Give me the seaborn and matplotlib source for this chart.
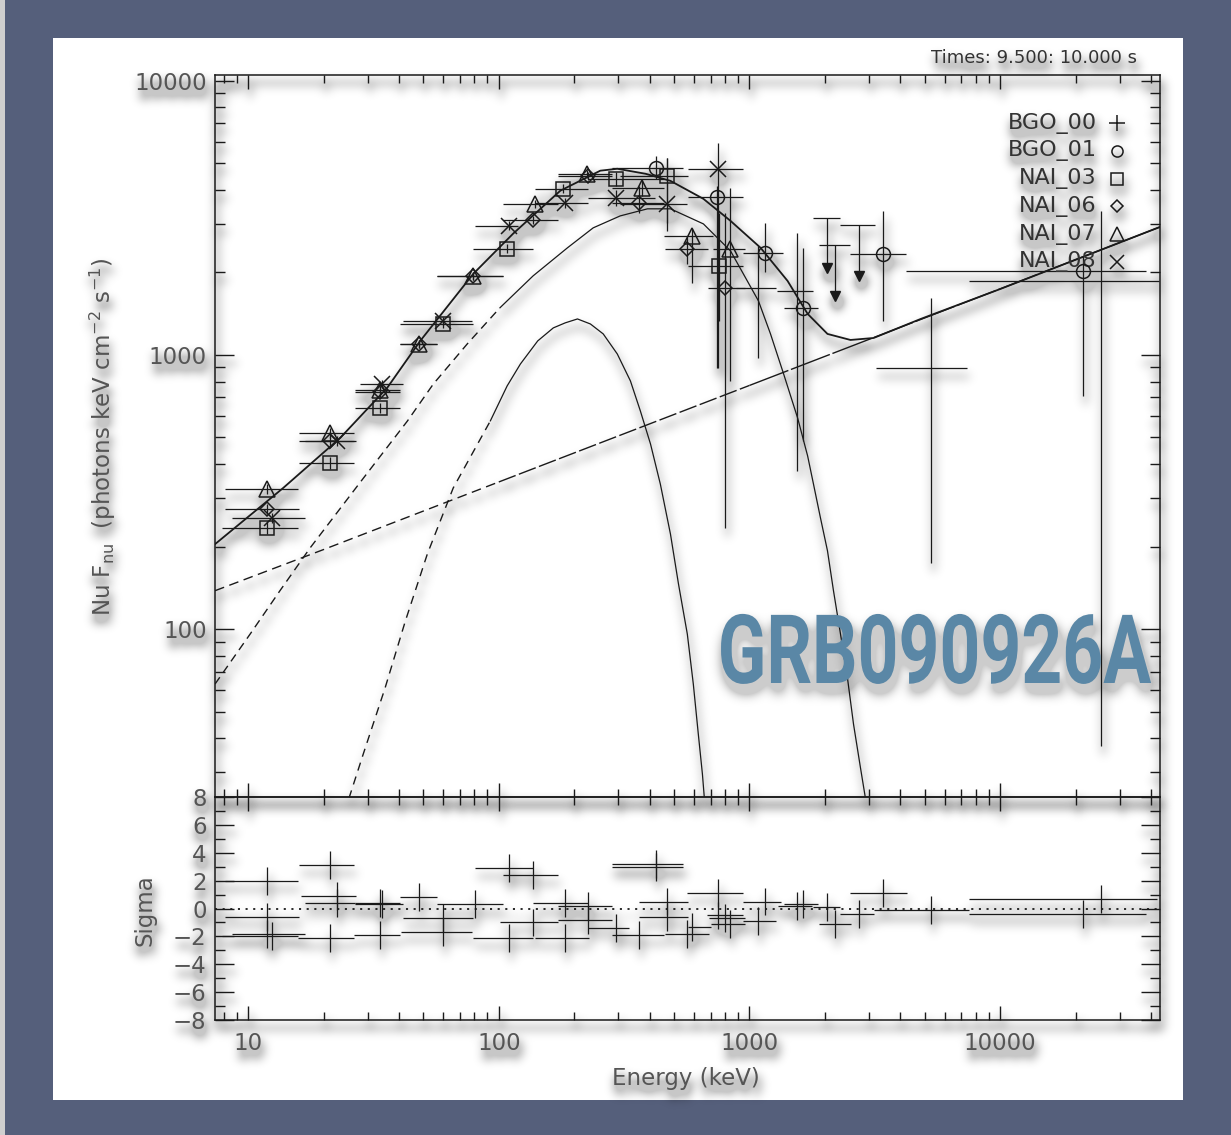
import numpy as np
import seaborn as sns
import matplotlib.pyplot as plt
from matplotlib.patches import Rectangle
from matplotlib.patheffects import AbstractPathEffect
from matplotlib.transforms import Affine2D
from matplotlib.ticker import (FixedLocator, FuncFormatter, LogLocator,
                               MultipleLocator, NullFormatter)

# ---------------- data ----------------
# energies in keV, Nu F_nu in photons keV cm^-2 s^-1

# total model (solid)
tot_E = [7.38, 13.8, 23.3, 35.9, 48.6, 79.1, 114, 176, 254, 297, 385, 484, 655,
         840, 1107, 1419, 1706, 2047, 2529, 3126, 4820, 10040, 43400]
tot_F = [204, 327, 498, 759, 1125, 1976, 2768, 3973, 4700, 4777, 4580, 4315, 3710,
         3084, 2460, 1862, 1412, 1193, 1134, 1153, 1353, 1742, 2930]

# Band component
band_E = [7.38, 10.2, 13.4, 17.7, 28.0, 43.2, 54.8, 74.8, 101, 137, 188, 238, 305,
          392, 484, 655, 840, 1086, 1213, 1368, 1556, 1706, 1800, 1920, 2047, 2163,
          2307, 2460, 2600, 2773, 2904, 2985]
band_F = [63, 96.0, 138, 198, 343, 574, 783, 1096, 1485, 1942, 2460, 2908, 3215,
          3412, 3412, 3006, 2397, 1574, 1193, 853, 589, 428, 338, 254, 193, 138,
          95.9, 66.2, 45.0, 31.1, 24.0, 20.8]

# black body component
bb_E = [23.3, 25.5, 28.8, 35.2, 42.4, 51.9, 65.8, 92.5, 108, 122, 143, 165, 184,
        206, 232, 261, 297, 335, 367, 403, 441, 484, 521, 565, 597, 625, 649, 667]
bb_F = [19.1, 24.8, 35.0, 61.0, 107, 188, 327, 574, 771, 927, 1125, 1255, 1309,
        1353, 1297, 1193, 1008, 804, 625, 473, 338, 222, 146, 95.9, 63.0, 41.4,
        29.6, 21.7]

# power law component
pl_E = [7.38, 20, 100, 1000, 10000, 43400]
pl_F = [138, 195, 344, 774, 1742, 2930]

# detectors: centre, bin edges, flux, flux error range
n03_E = [11.9, 21.2, 33.7, 60.0, 108, 181, 294, 467, 759]
n03_Elo = [7.9, 16.0, 26.7, 40.4, 79.1, 140, 227, 305, 571]
n03_Ehi = [15.8, 26.5, 40.4, 79.1, 137, 227, 454, 571, 938]
n03_F = [234, 404, 641, 1297, 2438, 4040, 4390, 4500, 2115]
n03_Flo = [222, 385, 615, 1250, 2350, 3900, 4150, 3040, 1330]
n03_Fhi = [247, 425, 668, 1345, 2530, 4190, 4640, 5240, 3300]

n06_E = [11.9, 21.2, 33.7, 48.2, 79.1, 137, 227, 361, 565, 802]
n06_Elo = [8.1, 16.0, 26.7, 40.4, 56.8, 104, 173, 284, 460, 686]
n06_Ehi = [16.0, 26.5, 40.4, 56.8, 104, 173, 284, 454, 686, 964]
n06_F = [274, 485, 730, 1096, 1943, 3110, 4500, 3590, 2438, 1758]
n06_Flo = [262, 465, 705, 1060, 1880, 3000, 4350, 3300, 2150, 234]
n06_Fhi = [287, 505, 756, 1132, 2006, 3220, 4650, 4140, 2700, 3300]

n07_E = [11.9, 21.2, 33.7, 48.2, 79.1, 140, 225, 371, 592, 840]
n07_Elo = [8.1, 16.0, 26.7, 40.4, 56.8, 104, 173, 284, 454, 718]
n07_Ehi = [15.8, 26.5, 40.4, 56.8, 104, 173, 284, 454, 718, 964]
n07_F = [324, 519, 745, 1096, 1943, 3560, 4580, 4070, 2720, 2438]
n07_Flo = [310, 498, 718, 1060, 1880, 3440, 4430, 3800, 1833, 804]
n07_Fhi = [338, 540, 772, 1132, 2006, 3680, 4730, 4340, 2884, 4070]

n08_E = [12.5, 22.6, 34.3, 60.0, 110, 184, 294, 467, 752]
n08_Elo = [8.6, 16.9, 28.0, 41.6, 80.5, 140, 227, 305, 571]
n08_Ehi = [16.9, 26.9, 41.6, 78.0, 119, 227, 420, 565, 938]
n08_F = [254, 485, 784, 1331, 2960, 3590, 3740, 3560, 4770]
n08_Flo = [243, 466, 757, 1290, 2850, 3450, 3500, 2838, 897]
n08_Fhi = [266, 505, 812, 1373, 3070, 3730, 3990, 5240, 5940]

b01_E = [422, 745, 1148, 1629, 3396, 21300]
b01_Elo = [284, 571, 938, 1368, 2529, 4198]
b01_Ehi = [545, 938, 1355, 1884, 4198, 38100]
b01_F = [4810, 3780, 2355, 1485, 2337, 2027]
b01_Flo = [4400, 897, 2000, 485, 1331, 708]
b01_Fhi = [5300, 4140, 3035, 2460, 3355, 2298]

b00_E = [1086, 1541, 5284, 25200]
b00_Elo = [880, 1290, 3184, 7480]
b00_Ehi = [1270, 1784, 7350, 42900]
b00_F = [1758, 1714, 897, 1862]
b00_Flo = [975, 377, 174, 37.4]
b00_Fhi = [2500, 2787, 1615, 3355]

# upper limits
ul_E = [2047, 2203, 2723]
ul_Elo = [1800, 1890, 2307]
ul_Ehi = [2307, 2529, 3155]
ul_F = [3162, 2518, 2979]
ul_tip = [2078, 1642, 1942]

# residuals (sigma)
res_E = [11.9, 11.9, 11.9, 12.5, 21.2, 22.6, 22.6, 21.2, 33.7, 34.3, 33.7, 48.2,
         60.0, 60.0, 80.5, 110, 137, 110, 137, 184, 184, 227, 227, 294, 361, 422,
         422, 467, 467, 565, 592, 752, 752, 802, 840, 1086, 1148, 1541, 1629, 2047,
         2203, 2723, 3396, 5284, 21300, 25200]
res_Elo = [8.1, 8.1, 8.6, 7.9, 16.0, 16.3, 16.9, 15.8, 26.7, 26.7, 26.5, 40.4,
           41.6, 40.8, 56.8, 80.5, 104, 79.1, 101, 137, 140, 173, 173, 227, 284, 284,
           284, 361, 361, 460, 571, 565, 680, 690, 700, 938, 938, 1300, 1368, 1800,
           1900, 2300, 2529, 3150, 7480, 7480]
res_Ehi = [15.8, 16.0, 16.9, 15.8, 26.5, 26.9, 26.7, 26.5, 40.4, 41.6, 40.4, 56.8,
           79.1, 78.0, 104, 137, 173, 137, 173, 227, 230, 284, 284, 330, 454, 545,
           545, 571, 571, 690, 700, 938, 938, 960, 960, 1270, 1340, 1780, 1884, 2300,
           2530, 3150, 4240, 7480, 38300, 42200]
res_sig = [2.0, -0.6, -1.8, -2.0, 3.1, 0.9, 0.4, -2.1, 0.4, 0.3, -1.9, 0.8,
           -0.7, -1.7, 0.3, 2.9, 2.4, -2.1, -1.0, 0.4, -2.1, 0.2, -0.8, -1.4, -1.9, 3.0,
           3.2, 0.5, -0.6, -1.8, -1.3, 1.1, -0.5, -0.7, -1.1, -0.9, 0.5, 0.2, 0.3, 0.1,
           -1.1, -0.4, 1.1, -0.1, -0.4, 0.7]

legend_names = ['BGO_00', 'BGO_01', 'NAI_03', 'NAI_06', 'NAI_07', 'NAI_08']


class Squeeze(AbstractPathEffect):
    """squeeze text horizontally about its right edge (condensed look)"""

    def __init__(self, sx):
        super().__init__()
        self.sx = sx

    def draw_path(self, renderer, gc, tpath, affine, rgbFace=None):
        x1 = tpath.get_extents(affine).x1
        t = affine + Affine2D().translate(-x1, 0).scale(self.sx, 1).translate(x1, 0)
        renderer.draw_path(gc, tpath, t, rgbFace)


def gauss_blur(a, sigma):
    r = int(3 * sigma)
    k = np.exp(-0.5 * (np.arange(-r, r + 1) / sigma) ** 2)
    k /= k.sum()
    tmp = np.zeros_like(a)
    for i, w in enumerate(k):
        tmp += w * np.roll(a, i - r, axis=0)
    out = np.zeros_like(a)
    for i, w in enumerate(k):
        out += w * np.roll(tmp, i - r, axis=1)
    return out


class SoftShadow:
    """agg filter: blurred grey drop shadow under whatever is drawn"""

    def __init__(self, dx=2, dy=8, sigma=5, strength=1.0, cap=0.22):
        self.dx, self.dy, self.sigma = dx, dy, sigma
        self.strength, self.cap = strength, cap

    def __call__(self, im, dpi):
        pad = int(3 * self.sigma) + max(abs(self.dx), abs(self.dy)) + 2
        a = np.pad(im, ((pad, pad), (pad, pad), (0, 0)))
        alpha = a[..., 3]
        sh = np.roll(alpha, (self.dy, self.dx), axis=(0, 1))
        sh = np.clip(gauss_blur(sh, self.sigma) * self.strength, 0, self.cap)
        A = alpha[..., None]
        S = sh[..., None]
        out_a = A + S * (1 - A)
        rgb = a[..., :3] * A / np.maximum(out_a, 1e-6)
        return np.concatenate([rgb, out_a], axis=2), -pad, -pad


# ---------------- figure ----------------
sns.set_theme(style='ticks')
plt.rcParams['font.family'] = ['DejaVu Sans']
plt.rcParams['lines.scale_dashes'] = False
plt.rcParams['mathtext.fontset'] = 'dejavusans'

W, H = 1231, 1135
fig = plt.figure(figsize=(W / 100, H / 100), dpi=100)
fig.patch.set_facecolor('#555f7b')
fig.add_artist(Rectangle((0, 0), 5 / W, 1, transform=fig.transFigure,
                         facecolor='#cfcfcf', edgecolor='none', zorder=-2))
fig.add_artist(Rectangle((53 / W, 1 - 1100 / H), 1130 / W, 1062 / H,
                         transform=fig.transFigure, facecolor='white',
                         edgecolor='none', zorder=-1))

ax = fig.add_axes([215 / W, 1 - 797 / H, 945 / W, 722 / H])
axr = fig.add_axes([215 / W, 1 - 1020 / H, 945 / W, 223 / H], sharex=ax)
for a in (ax, axr):
    a.set_facecolor('none')
    a.set_xscale('log')
ax.set_yscale('log')
ax.set_xlim(7.38, 43400)
ax.set_ylim(24.4, 10500)
axr.set_ylim(-8, 8)

ink = '#1a1a1a'


def curve(E, F, ls, lw=1.0):
    sns.lineplot(x=np.array(E), y=np.array(F), ax=ax, sort=False, estimator=None,
                 color=ink, linewidth=lw, linestyle=ls)


def split(E, F, cut):
    E = np.array(E)
    F = np.array(F)
    return (E[E <= cut], F[E <= cut]), (E[E >= cut], F[E >= cut])


# model components
(bd, bs) = split(band_E, band_F, 101)
curve(*bd, (0, (6, 4)))
curve(*bs, '-', 0.9)
(kd, ks) = split(bb_E, bb_F, 92.5)
curve(*kd, (0, (6, 4.5)))
curve(*ks, '-', 0.9)
pl1, rest = split(pl_E, pl_F, 100)
pl2, pl3 = split(*rest, 1000)
curve(*pl1, (0, (7, 4)))
curve(*pl2, (0, (13, 2.5)))
curve(*pl3, (0, (30, 2)))
curve(tot_E, tot_F, '-', 1.3)


def points(E, Elo, Ehi, F, Flo, Fhi, marker, ms):
    E, Elo, Ehi = np.array(E), np.array(Elo), np.array(Ehi)
    F, Flo, Fhi = np.array(F), np.array(Flo), np.array(Fhi)
    ax.errorbar(E, F, xerr=[E - Elo, Ehi - E], yerr=[F - Flo, Fhi - F],
                fmt=marker, ms=ms, mfc='none', mec=ink, mew=1.1, color=ink,
                ecolor=ink, elinewidth=0.9, capsize=0, zorder=3)


points(b00_E, b00_Elo, b00_Ehi, b00_F, b00_Flo, b00_Fhi, 'none', 0)
points(b01_E, b01_Elo, b01_Ehi, b01_F, b01_Flo, b01_Fhi, 'o', 10)
points(n03_E, n03_Elo, n03_Ehi, n03_F, n03_Flo, n03_Fhi, 's', 10)
points(n06_E, n06_Elo, n06_Ehi, n06_F, n06_Flo, n06_Fhi, 'D', 7.5)
points(n07_E, n07_Elo, n07_Ehi, n07_F, n07_Flo, n07_Fhi, '^', 11)
points(n08_E, n08_Elo, n08_Ehi, n08_F, n08_Flo, n08_Fhi, 'x', 11)

# upper limits
uE = np.array(ul_E)
ax.errorbar(uE, ul_F, xerr=[uE - np.array(ul_Elo), np.array(ul_Ehi) - uE],
            fmt='none', ecolor=ink, elinewidth=0.9)
ax.vlines(uE, ul_tip, ul_F, color=ink, lw=0.9)
ax.plot(uE, ul_tip, 'v', color=ink, ms=7, ls='none')

# residuals
rE = np.array(res_E)
axr.errorbar(rE, res_sig, xerr=[rE - np.array(res_Elo), np.array(res_Ehi) - rE],
             yerr=1, fmt='none', ecolor=ink, elinewidth=0.9, capsize=0)
axr.axhline(0, color=ink, lw=1.3, ls=(0, (1.5, 4)))

# ---------------- axes styling ----------------
fmt_int = FuncFormatter(lambda v, p: f'{v:.0f}'.replace('-', '\u2212'))
for a in (ax, axr):
    for s in a.spines.values():
        s.set_color(ink)
        s.set_linewidth(1.1)
    a.tick_params(which='both', direction='in', top=True, right=True,
                  color=ink, labelcolor='#555555', labelsize=16.5, width=1)
    a.tick_params(axis='x', which='major', length=10, pad=9)
    a.tick_params(axis='x', which='minor', length=6)
    a.tick_params(axis='y', which='major', length=14, pad=6)
    a.tick_params(axis='y', which='minor', length=7)

axr.xaxis.set_major_locator(FixedLocator([10, 100, 1000, 10000]))
axr.xaxis.set_minor_locator(LogLocator(base=10, subs=np.arange(2, 10)))
axr.xaxis.set_major_formatter(fmt_int)
axr.xaxis.set_minor_formatter(NullFormatter())
ax.tick_params(axis='x', labelbottom=False)

ax.yaxis.set_major_locator(FixedLocator([100, 1000, 10000]))
ax.yaxis.set_minor_locator(LogLocator(base=10, subs=np.arange(2, 10)))
ax.yaxis.set_major_formatter(fmt_int)
ax.yaxis.set_minor_formatter(NullFormatter())

axr.yaxis.set_major_locator(MultipleLocator(2))
axr.yaxis.set_minor_locator(MultipleLocator(1))
axr.yaxis.set_major_formatter(fmt_int)

# legend drawn as text + symbol, right aligned like the original
leg_marks = [('+', 12), ('o', 8), ('s', 9), ('D', 6.5), ('^', 10), ('x', 10)]
for i, (name, (m, ms)) in enumerate(zip(legend_names, leg_marks)):
    yy = 0.9335 - i * 0.0385
    ax.text(0.933, yy, name, transform=ax.transAxes, ha='right', va='center',
            fontsize=16, color='#333333')
    ax.plot([0.955], [yy], marker=m, ms=ms, mfc='none', mec=ink, mew=1.1,
            ls='none', transform=ax.transAxes, clip_on=False)

# ---------------- text ----------------
labels = [
    fig.text(1137 / W, 1 - 58 / H, 'Times: 9.500: 10.000 s', ha='right',
             va='center', fontsize=13, color='#333333'),
    fig.text(103 / W, 1 - 437 / H,
             r'Nu F$_{\rm nu}$  (photons keV cm$^{-2}$ s$^{-1}$)',
             rotation=90, ha='center', va='center', fontsize=16.5, color='#555555'),
    fig.text(145 / W, 1 - 910 / H, 'Sigma', rotation=90, ha='center', va='center',
             fontsize=16.5, color='#555555'),
    fig.text(686 / W, 1 - 1078 / H, 'Energy (keV)', ha='center', va='center',
             fontsize=16.5, color='#555555'),
]
grb = fig.text(1152 / W, 1 - 683 / H, 'GRB090926A', ha='right', va='baseline',
               fontsize=69, fontweight='bold', color='#5a87a6',
               family=['Roboto', 'DejaVu Sans'])
wpx = grb.get_window_extent(fig.canvas.get_renderer()).width
grb.set_path_effects([Squeeze(434 / wpx)])

# soft drop shadows as in the slide
for art in [ax, axr] + labels:
    art.set_agg_filter(SoftShadow())
grb.set_agg_filter(SoftShadow(dx=2, dy=9, sigma=6, strength=0.6, cap=0.2))

fig.savefig('out.png', dpi=100, facecolor=fig.get_facecolor())
